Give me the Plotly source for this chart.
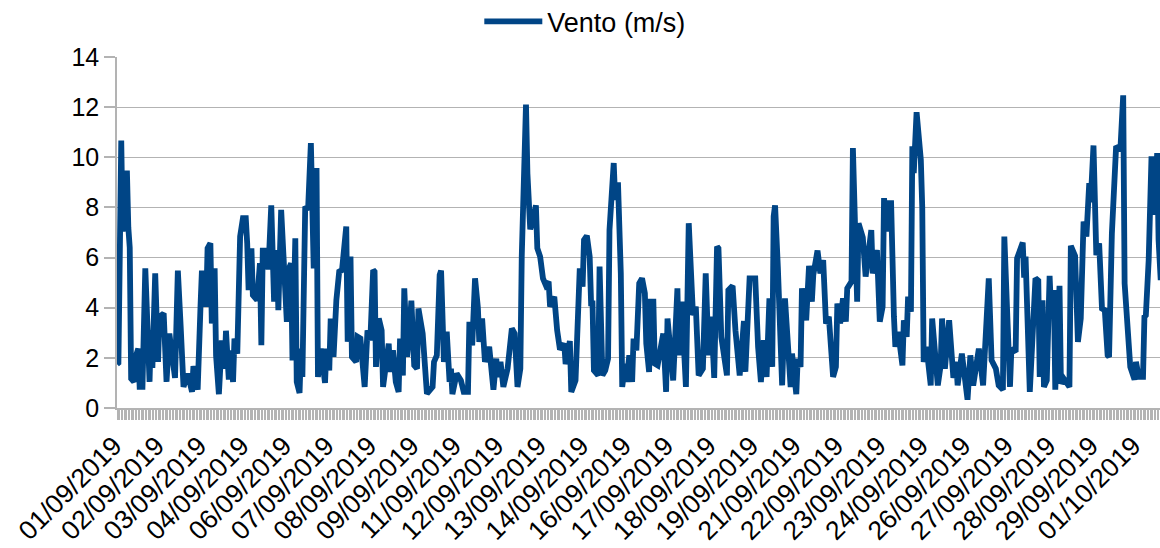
import plotly.graph_objects as go

HOURS = [0,1,3,4,5,7,8,9,10,12,13,15,16,18,20,21,23,24,25,27,29,30,33,35,37,41,43,45,47,50,53,54,57,59,60,63,64,66,67,69,70,72,74,76,77,79,80,82,83,85,87,89,91,92,93,95,96,99,101,102,103,105,107,109,111,113,114,116,118,120,121,123,124,126,127,129,130,131,133,135,137,139,141,142,144,147,148,150,151,153,155,157,159,161,162,163,165,166,169,170,172,175,176,177,179,181,182,183,185,187,188,190,192,193,195,197,199,200,202,203,205,207,208,210,212,213,216,219,223,224,226,228,229,231,233,235,236,237,240,243,245,248,249,251,253,255,256,258,260,263,266,268,269,271,273,276,277,279,281,283,285,286,289,290,292,294,296,297,299,301,303,305,306,309,311,313,316,317,320,321,324,325,327,329,330,332,334,335,336,337,340,341,343,345,347,348,351,352,354,356,357,359,360,362,364,365,367,369,371,373,374,376,377,379,380,382,386,388,389,393,396,397,399,402,404,407,409,411,414,416,418,420,422,424,425,427,431,432,435,437,440,443,444,447,451,453,455,457,459,461,463,464,465,467,470,472,474,476,477,480,481,483,484,487,489,491,492,495,497,499,501,503,506,508,509,511,513,515,516,519,520,523,524,527,529,533,534,537,539,541,542,544,546,547,549,550,552,555,556,558,559,561,562,563,565,568,569,570,572,575,576,580,582,583,585,588,591,593,594,597,601,603,605,609,612,614,616,618,621,623,626,627,631,632,635,636,640,641,642,645,647,649,651,652,654,655,657,659,660,662,663,666,667,669,673,674,677,679,681,683,685,687,688,690,692,694,696,698,700,701,703,704,706,709,711,712,715,716,719,720,722,725,726,727,729,730,731,733,735,736,737.5]
WIND_MS = [1.75,1.8,10.67,7.04,8,9.47,7.2,6.4,1.17,1.04,2,2.37,.84,.84,5.57,4.4,1.04,3.1,1.6,5.37,1.84,3.64,3.77,1.04,2.97,1.2,5.48,3.24,.84,1.37,.64,1.67,.73,4.04,5.48,4.04,6.37,6.57,3.37,5.57,2.1,.55,2.7,1.57,3.08,1.13,2.3,1.04,2.77,2.17,6.84,7.57,7.57,6.57,4.7,6.37,4.5,4.3,5.77,2.5,6.28,6.28,5.53,8.08,4.24,6.3,3.9,7.9,5.04,3.44,5.5,5.77,1.9,6.77,1.04,.6,2.37,1.24,8.04,7.9,10.57,5.57,9.57,1.24,2.37,1,2.37,1.5,3.57,2.04,4.3,5.44,5.5,7.24,7.24,2.64,6.04,2.04,1.84,2.84,2.77,.84,2.2,3.1,2.7,5.5,5.44,1.64,3.57,3.1,.84,1.7,2.57,1.44,2.3,1.04,.64,2.77,1.3,4.77,2.04,3.37,4.28,1.7,1.57,3.97,2.97,.57,.84,1.84,2.1,5.3,5.48,1.84,3.04,1.04,1.57,.55,1.37,1.1,.64,.64,3.44,2.5,5.17,4,2.64,3.57,1.84,2.44,.73,1.97,1.24,1.84,.84,1.57,2.1,3.17,2.97,.84,1.57,6.04,12.1,9.37,7.13,7.5,8.08,6.37,6.04,5.17,4.9,5.04,4.04,4.44,3.1,2.33,2.57,1.75,2.67,.64,1.1,3.1,5.57,4.84,6.7,6.87,6.04,4.17,4.17,1.5,1.3,5.64,1.3,1.5,1.97,7.1,9.77,8.3,9,5.37,.84,1.77,1.04,2.1,1.04,2.77,2.3,4.97,5.17,4.57,2.57,1.44,4.24,4.24,1.77,1.7,2.97,.64,3.57,1.1,4.77,2.1,4.24,.84,7.37,3.7,4.04,1.3,1.57,5.37,2.1,3.64,1.2,6.44,6.37,2.84,1.3,4.7,4.87,3.1,1.3,3.47,1.44,5.17,5.17,2.44,1.04,2.7,1.24,4.37,1.64,7.64,8.08,5.57,.9,4.37,2.9,.84,2.17,.55,1.97,1.64,4.77,3.5,5.67,4.24,5.3,6.28,5.37,5.9,3.37,3.64,1.24,1.64,4.17,3.37,4.37,3.44,4.77,5.04,10.37,4.24,7.37,6.8,5.24,7.1,5.37,6.3,3.44,4.04,8.37,7.04,8.17,8.17,3.64,2.44,3.04,1.7,3.5,2.84,4.44,3.84,10.44,9.37,11.8,9.9,8,1.84,2.44,.9,3.57,.9,1.7,3.57,1.57,3.5,1.2,1.84,.9,2.17,.33,2.1,.9,2.37,.9,2.77,5.17,1.9,1.57,.9,.73,6.84,.84,2.37,2.24,5.97,6.6,5.2,6.04,.64,2.7,5.17,5.08,1.24,4.3,.84,1.1,5.27,3.9,4.7,.73,4.87,.97,1.17,.84,6.47,6.07,2.64,3.57,7.44,6.84,8.97,8.2,10.47,6.1,6.57,3.97,3.9,2.1,2.04,6.97,8.3,10.44,10.3,12.47,4.97,2.3,1.64,1.13,1.84,1.24,1.24,3.64,3.7,5.9,8.17,10.04,7.7,10.17,6.7,5.1]
TICK_LABELS = ["01/09/2019","02/09/2019","03/09/2019","04/09/2019","06/09/2019","07/09/2019","08/09/2019","09/09/2019","11/09/2019","12/09/2019","13/09/2019","14/09/2019","16/09/2019","17/09/2019","18/09/2019","19/09/2019","21/09/2019","22/09/2019","23/09/2019","24/09/2019","26/09/2019","27/09/2019","28/09/2019","29/09/2019","01/10/2019"]
LABEL_EVERY = 30
N_SLOTS = 738

assert len(HOURS) == len(WIND_MS), (len(HOURS), len(WIND_MS))

tickvals = list(range(0, N_SLOTS))
ticktext = [""] * N_SLOTS
for i, lab in enumerate(TICK_LABELS):
    ticktext[i * LABEL_EVERY] = lab

GREY = "#b3b3b3"
fig = go.Figure(go.Scatter(
    x=HOURS, y=WIND_MS, mode="lines", name="Vento (m/s)",
    line=dict(color="#004586", width=5.8, shape="linear"),
    cliponaxis=False,
))
fig.update_layout(
    width=1160, height=548, autosize=False,
    paper_bgcolor="white", plot_bgcolor="white",
    margin=dict(l=116.8, r=0, t=57.3, b=140.3, autoexpand=False),
    font=dict(family="Liberation Sans, Arial, sans-serif", size=25, color="black"),
    showlegend=True,
    legend=dict(orientation="h", x=0.449, y=1.10, xanchor="center", yanchor="middle",
                itemwidth=58, font=dict(size=27)),
)
fig.update_xaxes(range=[0, 737], tickmode="array", tickvals=tickvals, ticktext=ticktext,
                 tickangle=-45, ticks="outside", ticklen=10, tickwidth=1, tickcolor=GREY,
                 showgrid=False, showline=True, linecolor=GREY, linewidth=1.5, zeroline=False,
                 tickfont=dict(size=26.5), ticklabelshift=-3)
fig.update_yaxes(range=[0, 14], tick0=0, dtick=2, ticks="outside", ticklen=11, tickwidth=1.5,
                 tickcolor=GREY, showgrid=True, gridcolor=GREY, gridwidth=1.2, showline=True,
                 linecolor=GREY, linewidth=1.5, zeroline=False, tickfont=dict(size=25))
fig.write_html("out.html", config={"displayModeBar": False},
               post_script="document.body.style.margin='0';")
